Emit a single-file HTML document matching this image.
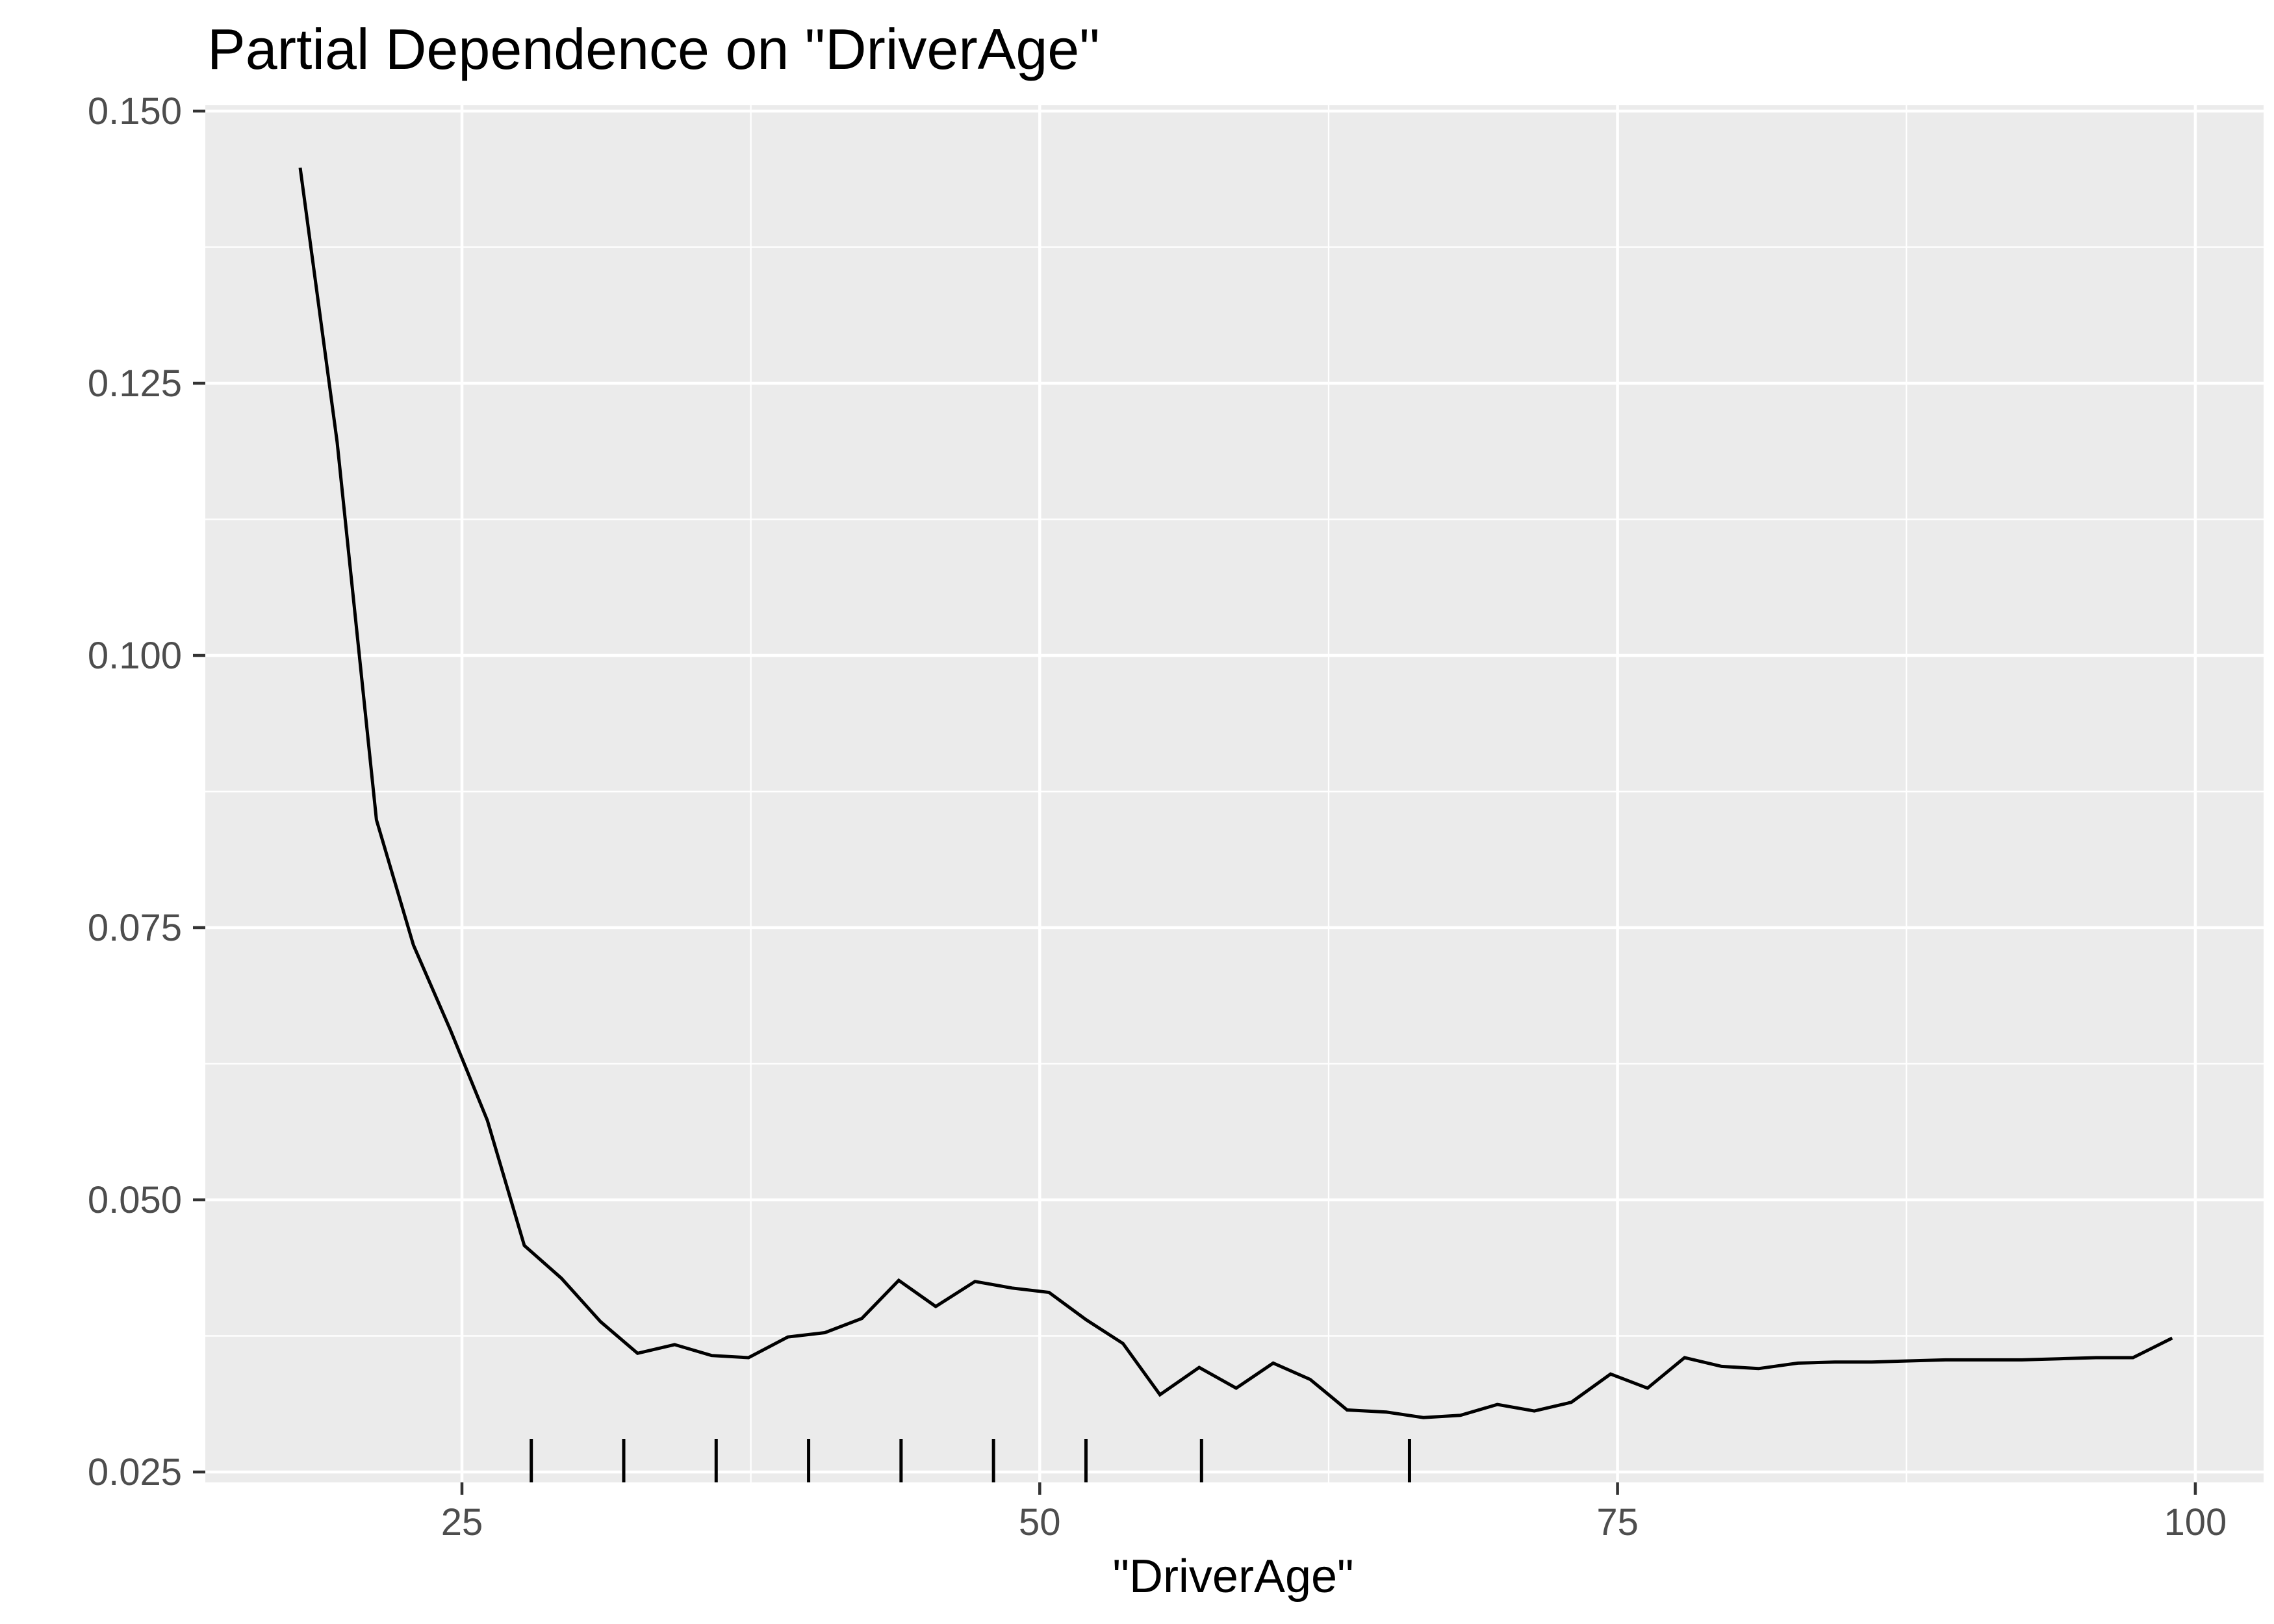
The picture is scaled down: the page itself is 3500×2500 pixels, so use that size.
<!DOCTYPE html>
<html><head><meta charset="utf-8"><style>
html,body{margin:0;padding:0;background:#fff}
svg{display:block}
text{font-family:"Liberation Sans",Arial,sans-serif}
</style></head><body>
<svg id="chart" width="3500" height="2500" viewBox="0 0 3500 2500" xmlns="http://www.w3.org/2000/svg">
<text x="319" y="106" font-size="88" fill="#000">Partial Dependence on "DriverAge"</text>
<rect x="316" y="162" width="3168" height="2120" fill="#ebebeb"/>
<g id="grid"></g>
<g id="marks"></g>
<g id="axes"></g>
<text x="1898" y="2451" font-size="72" text-anchor="middle" fill="#000">"DriverAge"</text>
</svg>
<script>
const ages = [18.0,19.6,21.3,22.9,24.5,26.1,27.7,29.3,31.0,32.6,34.2,35.8,37.4,39.1,40.7,42.3,43.9,45.5,47.2,48.8,50.4,52.0,53.6,55.2,56.9,58.5,60.1,61.7,63.3,65.0,66.6,68.2,69.8,71.4,73.0,74.7,76.3,77.9,79.5,81.1,82.8,84.4,86.0,87.6,89.2,90.8,92.5,94.1,95.7,97.3,99.0];
const pdValues = [0.1448,0.1196,0.0849,0.0734,0.0656,0.0573,0.0458,0.0428,0.0388,0.0359,0.0367,0.0357,0.0355,0.0374,0.0378,0.0391,0.0426,0.0402,0.0425,0.0419,0.0415,0.0390,0.0368,0.0321,0.0346,0.0327,0.0350,0.0335,0.0307,0.0305,0.0300,0.0302,0.0312,0.0306,0.0314,0.0340,0.0327,0.0355,0.0347,0.0345,0.0350,0.0351,0.0351,0.0352,0.0353,0.0353,0.0353,0.0354,0.0355,0.0355,0.0373];
const rugAges = [28,32,36,40,44,48,52,57,66];
const xTicks = [25,50,75,100];
const xTickLabels = ["25","50","75","100"];
const yTicks = [0.025,0.05,0.075,0.1,0.125,0.15];
const yTickLabels = ["0.025","0.050","0.075","0.100","0.125","0.150"];

const NS="http://www.w3.org/2000/svg";
const PL=316, PR=3484, PT=162, PB=2282;
function sx(a){return 711 + (a-25)*889.3/25;}
function sy(v){return 171 + (0.150-v)/0.025*419;}
function mk(tag, attrs, parent){const e=document.createElementNS(NS,tag);for(const k in attrs)e.setAttribute(k,attrs[k]);parent.appendChild(e);return e;}
const grid=document.getElementById('grid'), marks=document.getElementById('marks'), axes=document.getElementById('axes');

for(let i=0;i<xTicks.length+1;i++){
  const a = (i===0)? xTicks[0]-12.5 : xTicks[i-1]+12.5;
  const x=sx(a); if(x<PL||x>PR) continue;
  const l=mk('line',{x1:x,x2:x,y1:PT,y2:PB,stroke:'#fff','stroke-width':2.2},grid);
  
  
}
for(let i=0;i<yTicks.length-1;i++){
  const y=sy((yTicks[i]+yTicks[i+1])/2);
  const l=mk('line',{x1:PL,x2:PR,y1:y,y2:y,stroke:'#fff','stroke-width':2.2},grid);
  
  
}
xTicks.forEach((t,i)=>{
  const x=sx(t);
  const l=mk('line',{x1:x,x2:x,y1:PT,y2:PB,stroke:'#fff','stroke-width':4.5},grid);
  
  
  const tk=mk('line',{x1:x,x2:x,y1:PB,y2:PB+19,stroke:'#333','stroke-width':4.5},axes);
  
  
  const tx=mk('text',{x:x,y:2363,'font-size':58,'text-anchor':'middle',fill:'#4d4d4d'},axes);
  tx.textContent=xTickLabels[i];
  
  
});
yTicks.forEach((t,i)=>{
  const y=sy(t);
  const l=mk('line',{x1:PL,x2:PR,y1:y,y2:y,stroke:'#fff','stroke-width':4.5},grid);
  
  
  const tk=mk('line',{x1:PL-19,x2:PL,y1:y,y2:y,stroke:'#333','stroke-width':4.5},axes);
  
  
  const tx=mk('text',{x:280,y:y+20,'font-size':58,'text-anchor':'end',fill:'#4d4d4d'},axes);
  tx.textContent=yTickLabels[i];
  
  
});
const pts=ages.map((a,i)=>sx(a).toFixed(1)+','+sy(pdValues[i]).toFixed(1)).join(' ');
const pl=mk('polyline',{points:pts,fill:'none',stroke:'#000','stroke-width':5,'stroke-linejoin':'miter'},marks);


rugAges.forEach(a=>{
  const x=sx(a);
  const r=mk('line',{x1:x,x2:x,y1:PB-67,y2:PB,stroke:'#000','stroke-width':5},marks);
  
  
});
</script>
</body></html>
